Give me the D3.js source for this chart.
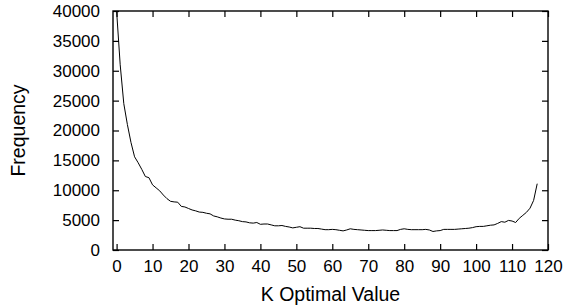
<!DOCTYPE html>
<html>
<head>
<meta charset="utf-8">
<script src="https://cdn.jsdelivr.net/npm/d3@7"></script>
<style>
  body { margin: 0; background: #fff; }
  text { font-family: "Liberation Sans", Arial, sans-serif; fill: #000; }
</style>
</head>
<body>
<div id="chart"></div>
<script>
// frequency of each optimal K value (k = 0 .. 117)
const freq = [
  40000, 31000, 24500, 21000, 18000, 15600, 14600, 13500, 12300, 12100,
  10900, 10400, 9900, 9200, 8600, 8150, 8050, 8000, 7300, 7200,
  6950, 6700, 6550, 6350, 6300, 6150, 6050, 5700, 5550, 5350,
  5200, 5150, 5150, 5000, 4900, 4750, 4700, 4550, 4500, 4600,
  4300, 4350, 4350, 4200, 4050, 4050, 4100, 3950, 3850, 3700,
  3800, 3900, 3650, 3650, 3650, 3600, 3600, 3500, 3400, 3400,
  3450, 3400, 3300, 3200, 3350, 3550, 3450, 3400, 3350, 3300,
  3250, 3250, 3250, 3300, 3350, 3300, 3250, 3250, 3250, 3450,
  3550, 3450, 3400, 3400, 3400, 3400, 3450, 3350, 3100, 3200,
  3250, 3450, 3450, 3450, 3450, 3500, 3550, 3600, 3650, 3750,
  3900, 3950, 3950, 4050, 4150, 4200, 4450, 4750, 4650, 4950,
  4850, 4600, 5300, 5800, 6300, 7000, 8300, 11100
];
const xTicks = [0, 10, 20, 30, 40, 50, 60, 70, 80, 90, 100, 110, 120];
const yTicks = [0, 5000, 10000, 15000, 20000, 25000, 30000, 35000, 40000];

const width = 566, height = 305;
const margin = {top: 11, right: 18, bottom: 55, left: 113};
const tickLen = 6;

const svg = d3.select("#chart").append("svg")
  .attr("width", width)
  .attr("height", height);

const x = d3.scaleLinear().domain([-1, 120]).range([margin.left, width - margin.right]);
const y = d3.scaleLinear().domain([0, 40000]).range([height - margin.bottom, margin.top]);

// curve
const line = d3.line()
  .x((d, i) => x(i))
  .y(d => y(d));

svg.append("path")
  .datum(freq)
  .attr("fill", "none")
  .attr("stroke", "#000")
  .attr("stroke-width", 1)
  .attr("d", line);

// axes, ticks pointing inward on all four sides
const fontSize = 17;
const titleSize = 19.5;
const fmt = d3.format("d");

svg.append("g")
  .attr("transform", `translate(0,${y(0)})`)
  .call(d3.axisBottom(x).tickValues(xTicks).tickFormat(fmt).tickSizeInner(-tickLen).tickSizeOuter(0).tickPadding(10))
  .call(g => g.select(".domain").remove());

svg.append("g")
  .attr("transform", `translate(0,${y(40000)})`)
  .call(d3.axisTop(x).tickValues(xTicks).tickSizeInner(-tickLen).tickSizeOuter(0).tickFormat(""))
  .call(g => g.select(".domain").remove());

svg.append("g")
  .attr("transform", `translate(${x(-1)},0)`)
  .call(d3.axisLeft(y).tickValues(yTicks).tickFormat(fmt).tickSizeInner(-tickLen).tickSizeOuter(0).tickPadding(13))
  .call(g => g.select(".domain").remove());

svg.append("g")
  .attr("transform", `translate(${x(120)},0)`)
  .call(d3.axisRight(y).tickValues(yTicks).tickSizeInner(-tickLen).tickSizeOuter(0).tickFormat(""))
  .call(g => g.select(".domain").remove());

svg.selectAll(".tick line").attr("stroke", "#000").attr("stroke-width", 1.2);
svg.selectAll(".tick text")
  .style("font-size", fontSize + "px")
  .style("font-family", "'Liberation Sans', Arial, sans-serif");

// frame
svg.append("rect")
  .attr("x", x(-1))
  .attr("y", y(40000))
  .attr("width", x(120) - x(-1))
  .attr("height", y(0) - y(40000))
  .attr("fill", "none")
  .attr("stroke", "#000")
  .attr("stroke-width", 1.4);

// titles
svg.append("text")
  .attr("x", (x(-1) + x(120)) / 2)
  .attr("y", 301)
  .attr("text-anchor", "middle")
  .style("font-size", titleSize + "px")
  .text("K Optimal Value");

svg.append("text")
  .attr("transform", `translate(25,${(y(0) + y(40000)) / 2}) rotate(-90)`)
  .attr("text-anchor", "middle")
  .style("font-size", titleSize + "px")
  .text("Frequency");
</script>
</body>
</html>
